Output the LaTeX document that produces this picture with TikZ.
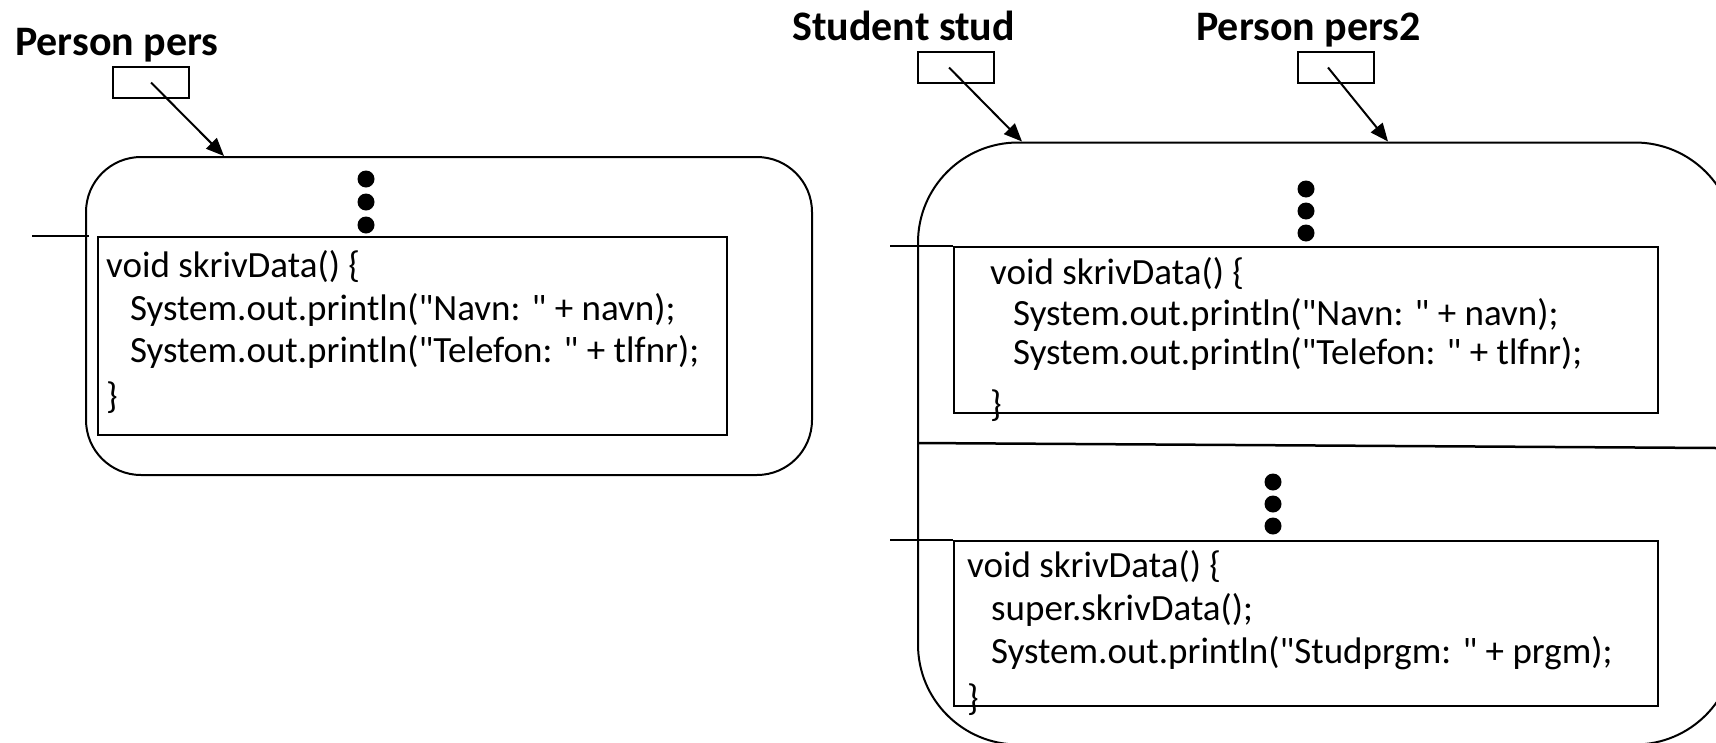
\documentclass[tikz,border=0pt]{standalone}
\usepackage{fontspec}
% plain family (no TeX ligature mapping) so that " stays a straight quote
\newfontfamily\codefont{Carlito}
\usetikzlibrary{arrows.meta,calc}
\begin{document}
\begin{tikzpicture}[x=1pt,y=-1pt,
  lw/.style={line width=2pt},
  frame/.style={draw, line width=2pt, inner sep=0pt, anchor=north west},
  slot/.style={draw, line width=2pt, inner sep=0pt, anchor=north west,
               minimum width=76pt, minimum height=31pt},
  method/.style={draw, line width=2pt, inner sep=0pt, anchor=north west},
  code/.style={anchor=base west, inner sep=0pt, font=\codefont\fontsize{37}{45}\selectfont},
  head/.style={anchor=base west, inner sep=0pt, font=\codefont\fontsize{42}{50}\selectfont\bfseries},
  dot/.style={circle, fill=black, inner sep=0pt, minimum size=17pt},
  ref/.style={line width=2pt, -{Triangle[length=18pt,width=15pt]}},
]
\useasboundingbox (0,0) rectangle (1716,742);
\clip (0,0) rectangle (1716,742);

% ---------- Person pers ----------
\node[head] (hpers) at (15,55) {Person pers};
\node[slot] (pref) at (112,66) {};
\node[frame, rounded corners=55pt, minimum width=726pt, minimum height=318pt] (pobj) at (85,156) {};
\node[method, minimum width=629pt, minimum height=198pt] (pm) at (97,235.5) {};
\coordinate (ptip) at (224,156);
\draw[ref] (pref.center) -- (ptip);
\coordinate (pstubA) at (32,235.5);
\coordinate (pstubB) at (89,235.5);
\draw[lw] (pstubA) -- (pstubB);
\node[dot] (pd1) at (366,179) {};
\node[dot] (pd2) at (366,202) {};
\node[dot] (pd3) at (366,225) {};
\node[code] (pl1) at (106,277) {void skrivData() \{};
\node[code] (pl2) at (130,320) {System.out.println("Navn: " + navn);};
\node[code] (pl3) at (130,362) {System.out.println("Telefon: " + tlfnr);};
\node[code] (pl4) at (106,408) {\}};

% ---------- Student stud / Person pers2 ----------
\node[head] (hstud) at (792,40) {Student stud};
\node[head] (hpers2) at (1196,40) {Person pers2};
\node[slot] (sref) at (917,51) {};
\node[slot] (p2ref) at (1297,51) {};
\node[frame, rounded corners=100pt, minimum width=817pt, minimum height=602pt] (sobj) at (917,141.5) {};
\coordinate (stip) at (1022,141.5);
\coordinate (p2tip) at (1388,141.5);
\draw[ref] ([xshift=-7pt]sref.center) -- (stip);
\draw[ref] ([xshift=-8pt]p2ref.center) -- (p2tip);

% inherited part
\node[method, minimum width=704pt, minimum height=166pt] (sm1) at (953,246) {};
\coordinate (s1stub) at (890,246);
\draw[lw] (s1stub) -- (sm1.north west);
\node[dot] (sd1) at (1306,189) {};
\node[dot] (sd2) at (1306,211) {};
\node[dot] (sd3) at (1306,233) {};
\node[code] (sa1) at (990,284) {void skrivData() \{};
\node[code] (sa2) at (1013,325) {System.out.println("Navn: " + navn);};
\node[code] (sa3) at (1013,364) {System.out.println("Telefon: " + tlfnr);};
\node[code] (sa4) at (990,416) {\}};

% divider between the Person part and the Student part
\coordinate (divL) at (917,443);
\coordinate (divR) at (1716,448);
\draw[line width=2.5pt] (divL) -- (divR);

% Student part
\node[method, minimum width=704pt, minimum height=165pt] (sm2) at (953,539.5) {};
\coordinate (s2stub) at (890,539.5);
\draw[lw] (s2stub) -- (sm2.north west);
\node[dot] (se1) at (1273,482) {};
\node[dot] (se2) at (1273,504) {};
\node[dot] (se3) at (1273,526) {};
\node[code] (sb1) at (967,577) {void skrivData() \{};
\node[code] (sb2) at (991,620) {super.skrivData();};
\node[code] (sb3) at (991,663) {System.out.println("Studprgm: " + prgm);};
\node[code] (sb4) at (967,710) {\}};
\end{tikzpicture}
\end{document}
